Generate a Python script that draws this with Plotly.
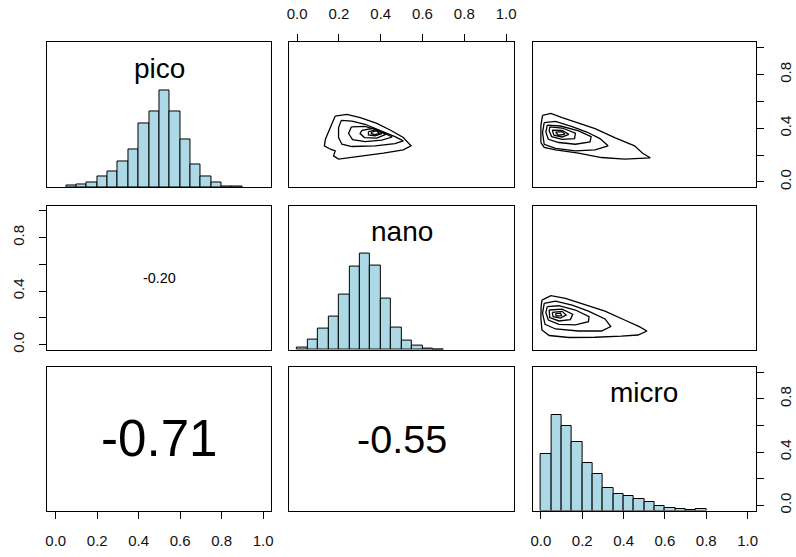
import plotly.graph_objects as go

# ---------------- data ----------------
var_names = ["pico", "nano", "micro"]
bin_width = 0.05

pico_bin_start = 0.05
pico_counts = [0.017, 0.034, 0.05, 0.113, 0.165, 0.268, 0.388, 0.656, 0.787, 1.0,
               0.787, 0.491, 0.24, 0.113, 0.045, 0.012, 0.008]

nano_bin_start = 0.0
nano_counts = [0.027, 0.103, 0.216, 0.344, 0.577, 0.863, 1.0, 0.876, 0.533, 0.234,
               0.096, 0.045, 0.012, 0.005]

micro_bin_start = 0.0
micro_counts = [0.589, 1.0, 0.884, 0.712, 0.498, 0.379, 0.239, 0.168, 0.147, 0.116,
                0.088, 0.046, 0.028, 0.014, 0.004, 0.012]

corr_labels = ["-0.20", "-0.71", "-0.55"]          # (nano,pico), (micro,pico), (micro,nano)
corr_values = [-0.20, -0.71, -0.55]

tick_vals = [0.0, 0.2, 0.4, 0.6, 0.8, 1.0]
x_tick_text = ["0.0", "0.2", "0.4", "0.6", "0.8", "1.0"]
y_tick_text = ["0.0", "", "0.4", "", "0.8", ""]

# contour lines: x = column variable, y = row variable
contours_nano_pico = [
    [(0.182, 0.491), (0.238, 0.504), (0.302, 0.479), (0.381, 0.437), (0.445, 0.387),
     (0.508, 0.331), (0.545, 0.269), (0.508, 0.239), (0.413, 0.214), (0.302, 0.194),
     (0.198, 0.170), (0.174, 0.194), (0.182, 0.231), (0.159, 0.244), (0.130, 0.269),
     (0.135, 0.318), (0.155, 0.392), (0.171, 0.461), (0.182, 0.491)],
    [(0.211, 0.459), (0.262, 0.454), (0.325, 0.430), (0.405, 0.380), (0.468, 0.338),
     (0.508, 0.306), (0.468, 0.286), (0.373, 0.269), (0.262, 0.264), (0.214, 0.281),
     (0.198, 0.331), (0.198, 0.405), (0.211, 0.459)],
    [(0.259, 0.410), (0.325, 0.415), (0.389, 0.385), (0.455, 0.335), (0.405, 0.311),
     (0.325, 0.301), (0.265, 0.316), (0.246, 0.361), (0.259, 0.410)],
    [(0.310, 0.385), (0.365, 0.400), (0.424, 0.355), (0.381, 0.326), (0.322, 0.331),
     (0.301, 0.361), (0.310, 0.385)],
    [(0.341, 0.375), (0.381, 0.390), (0.405, 0.361), (0.373, 0.343), (0.341, 0.350),
     (0.341, 0.375)],
    [(0.355, 0.372), (0.381, 0.380), (0.392, 0.362), (0.372, 0.352), (0.355, 0.360),
     (0.355, 0.372)],
]

contours_micro_pico = [
    [(0.008, 0.496), (0.048, 0.511), (0.103, 0.479), (0.182, 0.437), (0.262, 0.398),
     (0.357, 0.331), (0.453, 0.269), (0.492, 0.214), (0.529, 0.180), (0.405, 0.170),
     (0.293, 0.182), (0.182, 0.214), (0.071, 0.239), (0.016, 0.257), (0.000, 0.294),
     (0.000, 0.420), (0.008, 0.496)],
    [(0.016, 0.442), (0.071, 0.452), (0.151, 0.412), (0.222, 0.372), (0.286, 0.323),
     (0.325, 0.269), (0.262, 0.239), (0.167, 0.231), (0.071, 0.251), (0.016, 0.281),
     (0.008, 0.368), (0.016, 0.442)],
    [(0.031, 0.424), (0.095, 0.417), (0.182, 0.380), (0.243, 0.338), (0.238, 0.298),
     (0.167, 0.281), (0.087, 0.294), (0.036, 0.318), (0.024, 0.372), (0.031, 0.424)],
    [(0.043, 0.410), (0.103, 0.402), (0.167, 0.363), (0.163, 0.323), (0.103, 0.318),
     (0.052, 0.338), (0.040, 0.380), (0.043, 0.410)],
    [(0.055, 0.387), (0.103, 0.385), (0.135, 0.355), (0.103, 0.335), (0.063, 0.348),
     (0.055, 0.387)],
    [(0.071, 0.372), (0.103, 0.375), (0.116, 0.355), (0.084, 0.348), (0.071, 0.372)],
]

contours_micro_nano = [
    [(0.005, 0.332), (0.048, 0.365), (0.119, 0.345), (0.214, 0.300), (0.310, 0.250),
     (0.405, 0.183), (0.476, 0.134), (0.513, 0.101), (0.470, 0.071), (0.389, 0.062),
     (0.262, 0.054), (0.135, 0.052), (0.040, 0.067), (0.005, 0.109), (0.000, 0.196),
     (0.001, 0.283), (0.005, 0.332)],
    [(0.016, 0.308), (0.071, 0.325), (0.151, 0.295), (0.230, 0.250), (0.310, 0.191),
     (0.338, 0.134), (0.293, 0.101), (0.182, 0.101), (0.071, 0.116), (0.020, 0.151),
     (0.008, 0.233), (0.016, 0.308)],
    [(0.031, 0.283), (0.087, 0.290), (0.167, 0.258), (0.233, 0.208), (0.230, 0.171),
     (0.167, 0.146), (0.087, 0.151), (0.036, 0.183), (0.024, 0.240), (0.031, 0.283)],
    [(0.040, 0.258), (0.103, 0.265), (0.154, 0.226), (0.143, 0.186), (0.087, 0.176),
     (0.043, 0.201), (0.040, 0.258)],
    [(0.055, 0.240), (0.103, 0.248), (0.122, 0.220), (0.095, 0.198), (0.059, 0.208),
     (0.055, 0.240)],
    [(0.071, 0.231), (0.095, 0.235), (0.100, 0.216), (0.074, 0.213), (0.071, 0.231)],
]

# ---------------- layout geometry ----------------
W, H = 796, 557
col_px = [(45.7, 270.7), (288.3, 515.0), (533.3, 757.7)]
row_px = [(42.7, 188.3), (206.7, 351.7), (369.0, 513.3)]
col_dom = [[a / W, b / W] for a, b in col_px]
row_dom = [[1 - b / H, 1 - a / H] for a, b in row_px]

FONT = "Liberation Sans, Arial, sans-serif"
AX_RANGE = [-0.04, 1.04]
HIST_RANGE = [0, 1.5]


def nm(k):
    return "" if k == 1 else str(k)


fig = go.Figure()
layout = dict(
    width=W, height=H, autosize=False,
    margin=dict(l=0, r=0, t=0, b=0),
    paper_bgcolor="white", plot_bgcolor="rgba(0,0,0,0)",
    showlegend=False,
    font=dict(family=FONT, color="black"),
)

# which panels carry ticks
x_tick_side = {(0, 1): "top", (2, 0): "bottom", (2, 2): "bottom"}
y_tick_side = {(0, 2): "right", (1, 0): "left", (2, 2): "right"}

for r in range(3):
    for c in range(3):
        k = r * 3 + c + 1
        xs = x_tick_side.get((r, c))
        ys = y_tick_side.get((r, c))
        xa = dict(domain=col_dom[c], anchor="y" + nm(k), range=AX_RANGE,
                  showline=True, mirror=True, linecolor="black", linewidth=1,
                  showgrid=False, zeroline=False, fixedrange=True)
        if xs:
            xa.update(side=xs, ticks="outside", ticklen=7, tickcolor="black", tickwidth=1,
                      tickvals=tick_vals, ticktext=x_tick_text, showticklabels=True,
                      tickfont=dict(size=15, color="#111", family=FONT),
                      ticklabelstandoff=9)
        else:
            xa.update(ticks="", showticklabels=False)
        is_diag = (r == c)
        ya = dict(domain=row_dom[r], anchor="x" + nm(k),
                  range=(HIST_RANGE if (is_diag and not ys) else AX_RANGE),
                  showline=True, mirror=True, linecolor="black", linewidth=1,
                  showgrid=False, zeroline=False, fixedrange=True)
        if ys:
            ya.update(side=ys, ticks="outside", ticklen=7, tickcolor="black", tickwidth=1,
                      tickvals=tick_vals, ticktext=y_tick_text, showticklabels=True,
                      tickangle=-90,
                      tickfont=dict(size=15, color="#111", family=FONT),
                      ticklabelstandoff=9)
        else:
            ya.update(ticks="", showticklabels=False)
        layout["xaxis" + nm(k)] = xa
        layout["yaxis" + nm(k)] = ya

# separate (invisible) subplot stacked on the bottom-right panel for its histogram,
# because that panel's visible y axis carries the variable's 0-1 ticks
layout["xaxis10"] = dict(domain=col_dom[2], anchor="y10", range=AX_RANGE, visible=False,
                         fixedrange=True)
layout["yaxis10"] = dict(domain=row_dom[2], anchor="x10", range=HIST_RANGE, visible=False,
                         fixedrange=True)

# empty placeholder traces so every panel's axes are drawn
for k in range(1, 10):
    fig.add_trace(go.Scatter(x=[None], y=[None], mode="markers", xaxis="x" + nm(k),
                             yaxis="y" + nm(k), hoverinfo="skip", showlegend=False))

# ---------------- diagonal histograms ----------------
hist_data = [(pico_bin_start, pico_counts), (nano_bin_start, nano_counts),
             (micro_bin_start, micro_counts)]
hist_axes = [("x", "y"), ("x5", "y5"), ("x10", "y10")]
for (start, counts), (xr, yr) in zip(hist_data, hist_axes):
    centers = [start + (j + 0.5) * bin_width for j in range(len(counts))]
    fig.add_trace(go.Bar(x=centers, y=counts, width=bin_width,
                         marker=dict(color="#ADD8E6", line=dict(color="black", width=1)),
                         xaxis=xr, yaxis=yr, hoverinfo="skip"))

# variable names on diagonal
annotations = []
for name, (xr, yr) in zip(var_names, hist_axes):
    annotations.append(dict(x=0.5, y=1.23, xref=xr, yref=yr, text=name,
                            showarrow=False, font=dict(size=28, color="black", family=FONT)))

# ---------------- upper panels: contours ----------------
upper = [(2, contours_nano_pico), (3, contours_micro_pico), (6, contours_micro_nano)]
for k, cl in upper:
    xs, ys = [], []
    for loop in cl:
        xs += [p[0] for p in loop] + [None]
        ys += [p[1] for p in loop] + [None]
    fig.add_trace(go.Scatter(x=xs, y=ys, mode="lines", line=dict(color="black", width=1.3),
                             xaxis="x" + nm(k), yaxis="y" + nm(k), hoverinfo="skip",
                             connectgaps=False))

# ---------------- lower panels: correlations ----------------
lower = [4, 7, 8]
for k, lab, val in zip(lower, corr_labels, corr_values):
    annotations.append(dict(x=0.5, y=0.5, xref="x" + nm(k), yref="y" + nm(k), text=lab,
                            showarrow=False,
                            font=dict(size=72 * abs(val), color="black", family=FONT)))

layout["annotations"] = annotations
layout["bargap"] = 0
fig.update_layout(**layout)
fig.write_html("out.html")
